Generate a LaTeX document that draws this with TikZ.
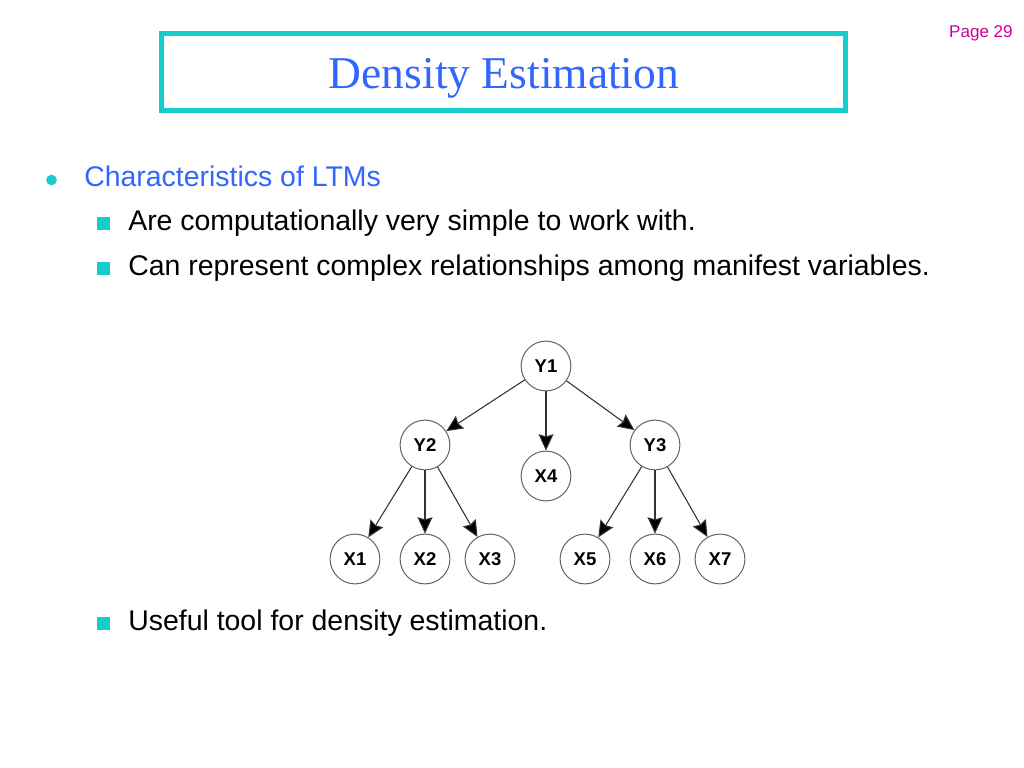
\documentclass[tikz,border=0pt]{standalone}
\usepackage{fontspec}
\setmainfont{Liberation Sans}
\newfontfamily\titlefont{Liberation Serif}
\usetikzlibrary{arrows.meta}
\definecolor{teal1}{RGB}{22,204,204}
\definecolor{blue1}{RGB}{51,102,255}
\definecolor{mag1}{RGB}{204,0,153}
\definecolor{gray1}{RGB}{100,100,100}
\tikzset{
  var/.style={circle, draw=gray1, line width=0.7pt, fill=white, minimum size=35pt, inner sep=0pt, font=\fontsize{13}{15}\selectfont\bfseries},
  edge/.style={draw=black!80, line width=0.75pt, -{Stealth[length=11.5pt,width=10.5pt,inset=1.5pt,fill=black]}},
  body/.style={anchor=base west, font=\fontsize{20}{24}\selectfont, inner sep=0pt},
  sq/.style={fill=teal1, minimum size=9pt, inner sep=0pt}
}
\begin{document}
\begin{tikzpicture}[x=0.703125pt, y=-0.703125pt]
\useasboundingbox (0,0) rectangle (1024,768);
\fill[white] (0,0) rectangle (1024,768);
% title
\node[draw=teal1, line width=3pt, minimum width=684*0.703125pt, minimum height=77*0.703125pt, inner sep=0pt] (titlebox) at (503.5,72) {};
\node[anchor=base, text=blue1, font=\titlefont\fontsize{32}{36}\selectfont, inner sep=0pt] (title) at (504,89) {Density Estimation};
\node[anchor=base east, text=mag1, font=\fontsize{12}{14}\selectfont, inner sep=0pt] (page) at (1013,38) {Page 29};
% bullets
\node[circle, fill=teal1, minimum size=7.5pt, inner sep=0pt] (b0) at (51.5,180) {};
\node[body, text=blue1] (t0) at (84,187) {Characteristics of LTMs};
\node[sq] (b1) at (103.5,223.5) {};
\node[body] (t1) at (128,231) {Are computationally very simple to work with.};
\node[sq] (b2) at (103.5,268.5) {};
\node[body] (t2) at (128,276) {Can represent complex relationships among manifest variables.};
\node[sq] (b3) at (103.5,623.5) {};
\node[body] (t3) at (128,630) {Useful tool for density estimation.};
% tree
\node[var] (Y1) at (546,366) {Y1};
\node[var] (Y2) at (425,445) {Y2};
\node[var] (X4) at (546,476) {X4};
\node[var] (Y3) at (655,445) {Y3};
\node[var] (X1) at (355,559) {X1};
\node[var] (X2) at (425,559) {X2};
\node[var] (X3) at (490,559) {X3};
\node[var] (X5) at (585,559) {X5};
\node[var] (X6) at (655,559) {X6};
\node[var] (X7) at (720,559) {X7};
\foreach \a/\b in {Y1/Y2,Y1/X4,Y1/Y3,Y2/X1,Y2/X2,Y2/X3,Y3/X5,Y3/X6,Y3/X7}
  \draw[edge] (\a) -- (\b);
\end{tikzpicture}
\end{document}
